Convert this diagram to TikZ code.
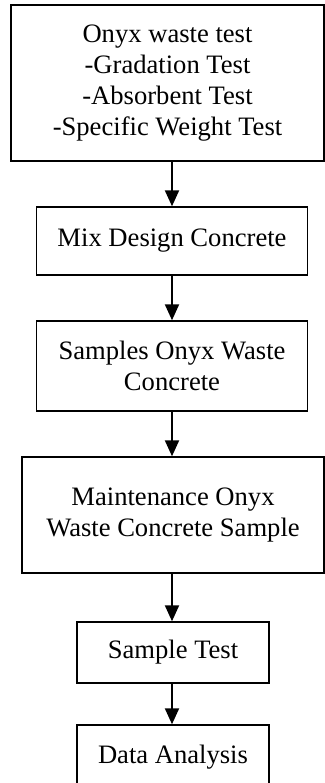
\documentclass[tikz,border=0pt]{standalone}
\usepackage{fontspec}
\setmainfont{Liberation Serif}
\usepackage{tikz}
\usetikzlibrary{arrows.meta}
\tikzset{
  box/.style={draw=black, line width=0.7pt, align=center, inner sep=0pt,
    font=\fontsize{13.3pt}{15.5pt}\selectfont},
  flow/.style={draw=black, line width=1pt, -{Triangle[length=8pt,width=7pt]}}
}

\begin{document}
\begin{tikzpicture}[x=0.5pt,y=-0.5pt]
  \useasboundingbox (0,0) rectangle (325,783);

  \node[box, minimum width=156.5pt, minimum height=78pt] (waste) at (167.5,83)
    {Onyx waste test\\-Gradation Test\\-Absorbent Test\\-Specific Weight Test};
  \node[box, minimum width=135.5pt, minimum height=34pt] (mix) at (172,241)
    {Mix Design Concrete};
  \node[box, minimum width=135.5pt, minimum height=45pt] (samples) at (172,366)
    {Samples Onyx Waste\\Concrete};
  \node[box, minimum width=151pt, minimum height=58pt] (maint) at (173,515)
    {Maintenance Onyx\\Waste Concrete Sample};
  \node[box, minimum width=96pt, minimum height=30.5pt] (stest) at (173,652.5)
    {Sample Test};
  \node[box, minimum width=96pt, minimum height=32pt] (data) at (173,757)
    {Data Analysis};

  \draw[flow] (waste.south -| mix.north) -- (mix.north);
  \draw[flow] (mix.south) -- (samples.north);
  \draw[flow] (samples.south) -- (samples.south |- maint.north);
  \draw[flow] (samples.south |- maint.south) -- (samples.south |- stest.north);
  \draw[flow] (samples.south |- stest.south) -- (samples.south |- data.north);
\end{tikzpicture}
\end{document}
